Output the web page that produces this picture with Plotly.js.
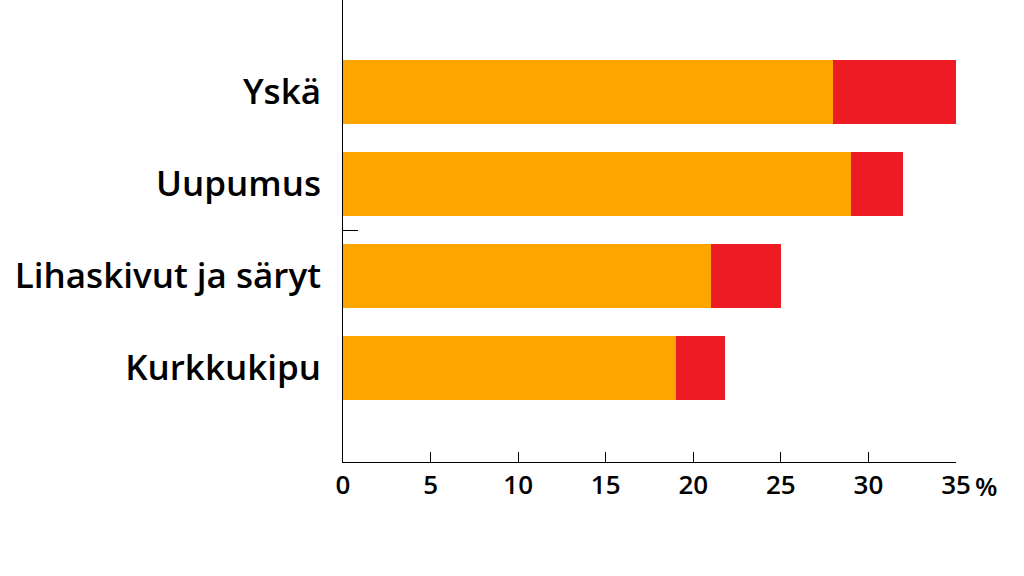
<!DOCTYPE html>
<html><head><meta charset="utf-8">
<script src="https://cdn.plot.ly/plotly-3.0.1.min.js"></script>
<style>html,body{margin:0;padding:0;background:#fff}#chart{width:1024px;height:576px}</style>
</head><body><div id="chart"></div>
<script>
const categories = ["Yskä", "Uupumus", "Lihaskivut ja säryt", "Kurkkukipu"];
const orangeValues = [28, 29, 21, 19];
const redValues = [7, 3, 4, 2.8];
const xTickVals = [0, 5, 10, 15, 20, 25, 30, 35];
const xTickText = ["0", "5", "10", "15", "20", "25", "30", "35"];
const unitLabel = "%";

const FONT = "Open Sans, sans-serif";
const traces = [
  {type:"bar", orientation:"h", y:categories, x:orangeValues, marker:{color:"#FFA500"}, hoverinfo:"x+y"},
  {type:"bar", orientation:"h", y:categories, x:redValues, marker:{color:"#ED1C24"}, hoverinfo:"x+y"}
];
const layout = {
  width:1024, height:576,
  margin:{l:343, r:68, t:0, b:114},
  barmode:"stack", bargap:0.3, showlegend:false,
  paper_bgcolor:"#fff", plot_bgcolor:"#fff",
  font:{family:FONT, color:"#000"},
  xaxis:{range:[0,35], tickvals:xTickVals, ticktext:xTickText, ticks:"inside", ticklen:10, tickcolor:"#000", tickwidth:1,
    showline:true, linecolor:"#000", linewidth:1, showgrid:false, zeroline:false,
    tickfont:{family:FONT, size:26, color:"#000", weight:600}},
  yaxis:{type:"category", categoryorder:"array", categoryarray:categories, range:[4.02,-1],
    showline:true, linecolor:"#000", linewidth:1, ticks:"", showgrid:false, zeroline:false,
    tickfont:{family:FONT, size:35, color:"#000", weight:600}, ticklabelstandoff:14},
  yaxis2:{overlaying:"y", range:[4.02,-1], tickvals:[1.5], ticks:"inside", ticklen:15, tickcolor:"#000", tickwidth:1,
    showticklabels:false, showgrid:false, zeroline:false, showline:false},
  annotations:[{xref:"paper", yref:"paper", x:1, y:0, xanchor:"left", yanchor:"top", xshift:17, yshift:-4,
    text:unitLabel, showarrow:false, font:{family:FONT, size:26, color:"#000", weight:600}}]
};
traces.push({type:"scatter", x:[], y:[], yaxis:"y2", hoverinfo:"skip"});
Plotly.newPlot("chart", traces, layout, {displayModeBar:false, staticPlot:true});
</script></body></html>
